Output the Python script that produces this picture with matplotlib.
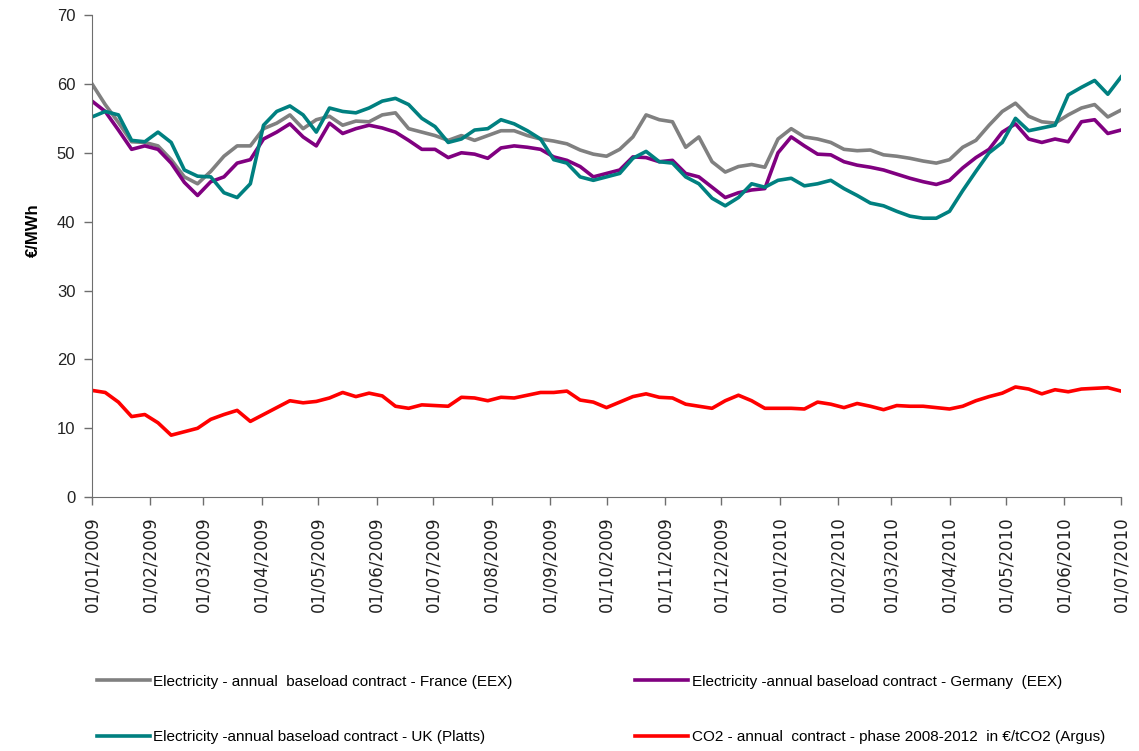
import matplotlib
matplotlib.use('Agg')
import matplotlib.pyplot as plt
import matplotlib.dates as mdates
import pandas as pd

# weekly readings, 01/01/2009 -> 01/07/2010
dates = pd.date_range('2009-01-01', periods=79, freq='7D')

france = [60, 57, 54.4, 51.6, 51.5, 51, 49, 46.5, 45.5, 47.3,
          49.5, 51, 51, 53.5, 54.3, 55.5, 53.5, 54.8, 55.3, 54,
          54.6, 54.5, 55.5, 55.8, 53.5, 53, 52.5, 51.8, 52.5, 51.8,
          52.5, 53.2, 53.2, 52.5, 52, 51.7, 51.3, 50.4, 49.8, 49.5,
          50.5, 52.3, 55.5, 54.8, 54.5, 50.8, 52.3, 48.7, 47.2, 48,
          48.3, 47.9, 52, 53.5, 52.3, 52, 51.5, 50.5, 50.3, 50.4,
          49.7, 49.5, 49.2, 48.8, 48.5, 49, 50.8, 51.8, 54, 56,
          57.2, 55.3, 54.5, 54.3, 55.5, 56.5, 57, 55.2, 56.2]

germany = [57.5, 56, 53.3, 50.5, 51, 50.5, 48.5, 45.7, 43.8, 45.8,
           46.5, 48.5, 49, 52, 53, 54.2, 52.3, 51, 54.3, 52.8,
           53.5, 54, 53.6, 53, 51.8, 50.5, 50.5, 49.3, 50, 49.8,
           49.2, 50.7, 51, 50.8, 50.5, 49.4, 48.9, 48, 46.5, 47,
           47.5, 49.4, 49.3, 48.7, 48.9, 47, 46.5, 45, 43.5, 44.2,
           44.6, 44.8, 50, 52.3, 51, 49.8, 49.7, 48.7, 48.2, 47.9,
           47.5, 46.9, 46.3, 45.8, 45.4, 46, 47.8, 49.3, 50.5, 53,
           54.2, 52, 51.5, 52, 51.6, 54.5, 54.8, 52.8, 53.3]

uk = [55.2, 56, 55.5, 51.8, 51.6, 53, 51.5, 47.5, 46.6, 46.5,
      44.2, 43.5, 45.5, 54, 56, 56.8, 55.5, 53, 56.5, 56,
      55.8, 56.5, 57.5, 57.9, 57, 55, 53.8, 51.5, 52, 53.3,
      53.5, 54.8, 54.2, 53.2, 52, 49, 48.5, 46.5, 46, 46.5,
      47, 49.2, 50.2, 48.7, 48.5, 46.5, 45.5, 43.4, 42.3, 43.5,
      45.5, 45, 46, 46.3, 45.2, 45.5, 46, 44.8, 43.8, 42.7,
      42.3, 41.5, 40.8, 40.5, 40.5, 41.5, 44.5, 47.3, 50, 51.5,
      55, 53.2, 53.6, 54, 58.4, 59.5, 60.5, 58.5, 61]

co2 = [15.5, 15.2, 13.8, 11.7, 12, 10.8, 9, 9.5, 10, 11.3,
       12, 12.6, 11, 12, 13, 14, 13.7, 13.9, 14.4, 15.2,
       14.6, 15.1, 14.7, 13.2, 12.9, 13.4, 13.3, 13.2, 14.5, 14.4,
       14, 14.5, 14.4, 14.8, 15.2, 15.2, 15.4, 14.1, 13.8, 13,
       13.8, 14.6, 15, 14.5, 14.4, 13.5, 13.2, 12.9, 14, 14.8,
       14, 12.9, 12.9, 12.9, 12.8, 13.8, 13.5, 13, 13.6, 13.2,
       12.7, 13.3, 13.2, 13.2, 13, 12.8, 13.2, 14, 14.6, 15.1,
       16, 15.7, 15, 15.6, 15.3, 15.7, 15.8, 15.9, 15.4]

labels = ['Electricity - annual  baseload contract - France (EEX)',
          'Electricity -annual baseload contract - Germany  (EEX)',
          'Electricity -annual baseload contract - UK (Platts)',
          'CO2 - annual  contract - phase 2008-2012  in €/tCO2 (Argus)']
colors = ['#808080', '#800080', '#008080', '#ff0000']

plt.rcParams['font.family'] = ['Liberation Sans', 'DejaVu Sans']

fig = plt.figure(figsize=(11.39, 7.51), dpi=100)
ax = fig.add_axes([0.0808, 0.338, 0.9034, 0.642])

lines = []
for vals, lab, col in zip([france, germany, uk, co2], labels, colors):
    l, = ax.plot(dates, vals, color=col, lw=2.6, label=lab, solid_joinstyle='round')
    lines.append(l)

ax.set_ylim(0, 70)
ax.set_yticks(range(0, 71, 10))
ax.set_xlim(pd.Timestamp('2009-01-01'), pd.Timestamp('2010-07-01'))
ax.xaxis.set_major_locator(mdates.MonthLocator())
ax.xaxis.set_major_formatter(mdates.DateFormatter('%d/%m/%Y'))
for s in ['top', 'right']:
    ax.spines[s].set_visible(False)
for s in ['left', 'bottom']:
    ax.spines[s].set_color('#6e6e6e')
ax.tick_params(axis='both', color='#6e6e6e', length=6, width=1, labelcolor='#222222')
ax.tick_params(axis='y', labelsize=12, pad=6)
ax.tick_params(axis='x', labelsize=12, labelrotation=90, pad=8)
for t in ax.get_xticklabels():
    t.set_family('DejaVu Sans')

ax.set_ylabel('€/MWh', fontsize=12, fontweight='bold')
ax.yaxis.set_label_coords(-0.05, 0.554)

order = [0, 2, 1, 3]
fig.legend([lines[i] for i in order], [labels[i] for i in order],
           loc='upper left', bbox_to_anchor=(0.073, 0.12), ncol=2,
           frameon=False, handlelength=3.5, handletextpad=0.2,
           labelspacing=2.7, columnspacing=8.0,
           prop={'family': ['Liberation Sans Narrow', 'Liberation Sans'], 'size': 11})

fig.savefig('out.png', dpi=100)
